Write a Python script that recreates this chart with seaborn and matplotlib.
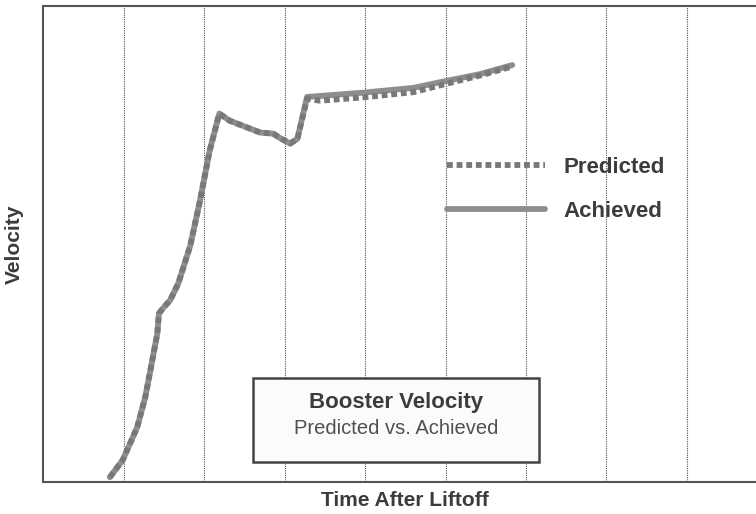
import pandas as pd
import seaborn as sns
import matplotlib.pyplot as plt
from matplotlib.patches import Rectangle

# time in grid units (one dotted gridline per unit), velocity as % of axis height
time_pred = [0.83, 0.99, 1.17, 1.27, 1.35, 1.42, 1.44, 1.49, 1.58, 1.68, 1.83, 1.95,
             2.07, 2.19, 2.32, 2.70, 2.86, 2.94, 3.07, 3.16, 3.28, 3.44, 3.98, 4.60,
             5.02, 5.43, 5.83]
vel_pred = [1.0, 4.6, 11.5, 17.8, 24.9, 31.2, 35.4, 36.5, 38.2, 41.7, 49.7, 59.1,
            69.6, 77.4, 75.9, 73.4, 73.2, 72.3, 71.1, 72.1, 80.5, 80.1, 80.8, 81.9,
            83.7, 85.4, 87.3]
time_ach = [0.83, 0.99, 1.17, 1.27, 1.35, 1.42, 1.44, 1.49, 1.58, 1.68, 1.83, 1.95,
            2.07, 2.19, 2.32, 2.70, 2.86, 2.94, 3.07, 3.16, 3.28, 3.44, 3.98, 4.60,
            5.02, 5.43, 5.83]
vel_ach = [1.0, 4.6, 11.5, 17.8, 24.9, 31.2, 35.4, 36.5, 38.2, 41.7, 49.7, 59.1,
           69.6, 77.4, 75.9, 73.4, 73.2, 72.3, 71.1, 72.1, 80.9, 81.1, 81.8, 82.8,
           84.3, 85.7, 87.6]
series_names = ["Predicted", "Achieved"]
box_title = "Booster Velocity"
box_subtitle = "Predicted vs. Achieved"

sns.set_style("white")
plt.rcParams['font.family'] = ['Liberation Sans', 'DejaVu Sans']

fig = plt.figure(figsize=(7.56, 5.14), dpi=100)
ax = fig.add_axes([0.0569, 0.0623, 0.9583, 0.926])

text_col = "#3c3c3c"

pred = pd.DataFrame({"t": time_pred, "v": vel_pred})
ach = pd.DataFrame({"t": time_ach, "v": vel_ach})

sns.lineplot(data=ach, x="t", y="v", ax=ax, color="#8e8e8e", linewidth=4.2,
             sort=False, label=series_names[1], zorder=3)
sns.lineplot(data=pred, x="t", y="v", ax=ax, color="#787878", linewidth=4.2,
             sort=False, label=series_names[0], zorder=4)
ax.lines[-1].set_linestyle((0, (1.0, 0.65)))
ax.lines[-1].set_dash_capstyle("butt")

ax.set_xlim(0, 9)
ax.set_ylim(0, 100)
ax.set_xticks(range(1, 9))
ax.set_yticks([])
ax.tick_params(axis="x", length=0, labelbottom=False)
ax.grid(axis="x", color="#555555", linestyle=(0, (1, 1)), linewidth=0.8)
ax.grid(axis="y", visible=False)
for s in ax.spines.values():
    s.set_color("#555555")
    s.set_linewidth(1.5)

ax.set_xlabel("Time After Liftoff", fontsize=15, fontweight="bold", color=text_col)
ax.xaxis.set_label_coords(0.5, -0.02)
ax.set_ylabel("Velocity", fontsize=15, fontweight="bold", color=text_col)
ax.yaxis.set_label_coords(-0.026, 0.5)

handles, labels = ax.get_legend_handles_labels()
leg = ax.legend(handles[::-1], labels[::-1], frameon=False,
                prop={"weight": "bold", "size": 16}, handlelength=4.4,
                handletextpad=0.85, labelspacing=1.05,
                loc="upper left", bbox_to_anchor=(0.53, 0.725))
for t in leg.get_texts():
    t.set_color(text_col)

# caption box
ax.add_patch(Rectangle((0.290, 0.042), 0.395, 0.176, transform=ax.transAxes,
                       facecolor="#fbfbfb", edgecolor="#444444", linewidth=1.8,
                       zorder=5))
ax.text(0.487, 0.167, box_title, transform=ax.transAxes, ha="center", va="center",
        fontsize=16, fontweight="bold", color=text_col, zorder=6)
ax.text(0.487, 0.113, box_subtitle, transform=ax.transAxes, ha="center",
        va="center", fontsize=14.5, color="#505050", zorder=6)

fig.savefig("out.png", dpi=100)
